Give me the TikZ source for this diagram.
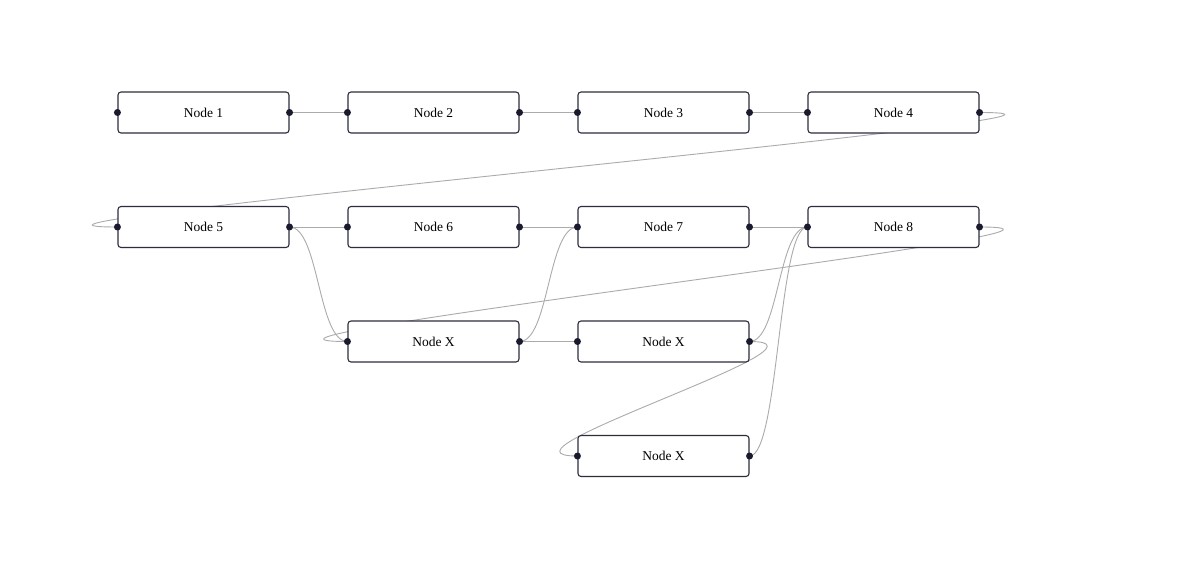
\documentclass[tikz,border=0pt]{standalone}
\usepackage{fontspec}
\setmainfont{Liberation Serif}
\usetikzlibrary{backgrounds}
\definecolor{boxline}{HTML}{2E2D3D}
\definecolor{portfill}{HTML}{1A1A2E}
\definecolor{wire}{HTML}{ABABAB}
\begin{document}
\begin{tikzpicture}[x=1pt,y=-1pt,
  box/.style={draw=boxline, fill=white, line width=1.1pt, rounded corners=3pt,
    minimum width=171pt, minimum height=41pt, inner sep=0pt,
    font=\fontsize{13.5}{16}\selectfont},
  edge/.style={draw=wire, line width=0.9pt},
  port/.style={circle, fill=portfill, inner sep=0pt, minimum size=7pt}]
  \useasboundingbox (0,0) rectangle (1192,569);

  % grid of blocks: columns 230pt apart, rows 114.5pt apart
  \node[box] (n1) at (203.5,112.5) {Node 1};
  \node[box] (n2) at (433.5,112.5) {Node 2};
  \node[box] (n3) at (663.5,112.5) {Node 3};
  \node[box] (n4) at (893.5,112.5) {Node 4};
  \node[box] (n5) at (203.5,227) {Node 5};
  \node[box] (n6) at (433.5,227) {Node 6};
  \node[box] (n7) at (663.5,227) {Node 7};
  \node[box] (n8) at (893.5,227) {Node 8};
  \node[box] (x1) at (433.5,341.5) {Node X};
  \node[box] (x2) at (663.5,341.5) {Node X};
  \node[box] (x3) at (663.5,456) {Node X};

  % input / output ports
  \foreach \n in {n1,n2,n3,n4,n5,n6,n7,n8,x1,x2,x3} {
    \node[port] (\n-in) at (\n.west) {};
    \node[port] (\n-out) at (\n.east) {};
  }

  \begin{scope}[on background layer]
    \fill[white] (0,0) rectangle (1192,569);
    % forward links
    \foreach \a/\b in {n1/n2, n2/n3, n3/n4, n5/n6, n5/x1, n6/n7, x1/n7,
                       x1/x2, n7/n8, x2/n8, x3/n8} {
      \draw[edge] (\a-out.center) .. controls +(29.5,0) and +(-29.5,0) .. (\b-in.center);
    }
    % backward links loop around
    \draw[edge] (n4-out.center) .. controls +(220,0) and +(-220,0) .. (n5-in.center);
    \draw[edge] (n8-out.center) .. controls +(190,0) and +(-190,0) .. (x1-in.center);
    \draw[edge] (x2-out.center) .. controls +(102,0) and +(-102,0) .. (x3-in.center);
  \end{scope}
\end{tikzpicture}
\end{document}
